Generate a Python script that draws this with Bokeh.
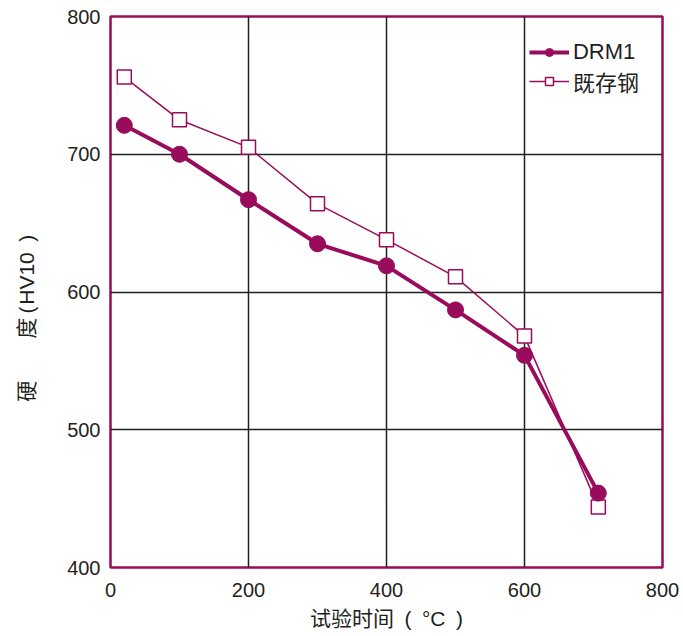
from bokeh.plotting import figure
from bokeh.models import Range1d, FixedTicker, Legend, LegendItem
from bokeh.embed import file_html
from bokeh.resources import INLINE

temps = [20, 100, 200, 300, 400, 500, 600, 707]
drm1 = [721, 700, 667, 635, 619, 587, 554, 454]
steel_t = [20, 100, 200, 300, 400, 500, 600, 707]
steel = [756, 725, 705, 664, 638, 611, 568, 444]
x_ticks = [0, 200, 400, 600, 800]
y_ticks = [400, 500, 600, 700, 800]

MAROON = "#990b5b"
DARK = "#231f20"
FONT = "'Liberation Sans', 'Noto Sans CJK SC'"

p = figure(width=683, height=636, output_backend="svg", toolbar_location=None,
           x_range=Range1d(0, 800), y_range=Range1d(400, 800),
           min_border_left=110, min_border_right=21, min_border_top=16, min_border_bottom=69)
p.background_fill_color = "white"
p.border_fill_color = "white"
p.outline_line_color = MAROON
p.outline_line_width = 2.5

for ax in (p.xaxis[0], p.yaxis[0]):
    ax.axis_line_color = None
    ax.major_tick_line_color = None
    ax.minor_tick_line_color = None
    ax.major_label_text_font = FONT
    ax.major_label_text_font_size = "20px"
    ax.major_label_text_color = DARK
    ax.axis_label_text_font = FONT
    ax.axis_label_text_color = DARK
    ax.axis_label_text_font_style = "normal"

p.xaxis.ticker = FixedTicker(ticks=x_ticks)
p.yaxis.ticker = FixedTicker(ticks=y_ticks)
p.xaxis.major_label_standoff = 9
p.yaxis.major_label_standoff = 4
p.xaxis.axis_label = "试验时间\u2002(\u2002°C\u2002)"
p.yaxis.axis_label = "硬\u3000\u3000度\u2009(\u200aHV10\u2002)\u3000\u3000\u2002"
p.xaxis.axis_label_text_font_size = "21px"
p.yaxis.axis_label_text_font_size = "21px"
p.xaxis.axis_label_standoff = 7
p.yaxis.axis_label_standoff = 26

p.xgrid.grid_line_color = DARK
p.ygrid.grid_line_color = DARK
p.xgrid.grid_line_width = 1.5
p.ygrid.grid_line_width = 1.5

l2 = p.line(steel_t, steel, line_color=MAROON, line_width=1.5)
s2 = p.scatter(steel_t, steel, marker="square", size=14, fill_color="white",
               line_color=MAROON, line_width=1.5)
l1 = p.line(temps, drm1, line_color=MAROON, line_width=4)
s1 = p.scatter(temps, drm1, marker="circle", size=16, fill_color=MAROON,
               line_color=MAROON)

legend = Legend(items=[LegendItem(label="DRM1", renderers=[l1, s1]),
                       LegendItem(label="既存钢", renderers=[l2, s2])],
                location="top_right")
legend.background_fill_alpha = 0
legend.border_line_color = None
legend.label_text_font = FONT
legend.label_text_font_size = "22px"
legend.label_text_color = DARK
legend.glyph_width = 40
legend.glyph_height = 20
legend.label_height = 20
legend.label_standoff = 4
legend.spacing = 0
legend.margin = 23
legend.padding = 0
p.add_layout(legend)

open("out.html", "w").write(file_html(p, INLINE))
